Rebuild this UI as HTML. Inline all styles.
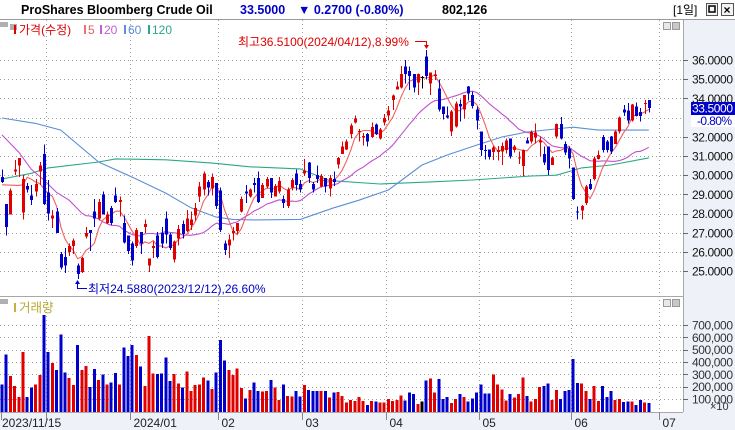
<!DOCTYPE html>
<html><head><meta charset="utf-8">
<style>
body{margin:0;background:#fff;}
svg{display:block;font-family:"Liberation Sans","Noto Sans CJK KR",sans-serif;}
</style></head>
<body>
<svg id="chart" width="735" height="430" viewBox="0 0 735 430" xmlns="http://www.w3.org/2000/svg">
  <rect x="0" y="0" width="735" height="430" fill="#ffffff"/>
  <!-- title bar -->
  <g>
    <rect x="0" y="0" width="735" height="19" fill="#ffffff"/>
    <line x1="0" y1="19.5" x2="735" y2="19.5" stroke="#9a9a9a"/>
    <text x="21" y="14" font-size="12.5" font-weight="bold" fill="#000">ProShares Bloomberg Crude Oil</text>
    <text x="240" y="14" font-size="12.5" font-weight="bold" fill="#0000c8">33.5000</text>
    <text x="298" y="14" font-size="12.5" font-weight="bold" fill="#0000c8">▼ 0.2700 (-0.80%)</text>
    <text x="442" y="14" font-size="12.5" font-weight="bold" fill="#000">802,126</text>
    <text x="673" y="14" font-size="12" fill="#000">[1일]</text>
    <rect x="706.5" y="3.5" width="11" height="12" fill="#f4f4f4" stroke="#555"/>
    <rect x="709" y="6" width="6" height="6" fill="none" stroke="#000" stroke-width="1.5"/>
    <rect x="721.5" y="3.5" width="12" height="12" fill="#f4f4f4" stroke="#555"/>
    <text x="723.5" y="14" font-size="12" font-weight="bold" fill="#000">×</text>
  </g>
  <!-- axis backgrounds -->
  <rect x="683" y="20" width="52" height="410" fill="#eef1f7"/>
  <rect x="0" y="412" width="735" height="18" fill="#eef1f7"/>
  <line x1="683.5" y1="20" x2="683.5" y2="412" stroke="#a8a8a8"/>
  <line x1="0" y1="296.5" x2="683" y2="296.5" stroke="#a8a8a8"/>
  <line x1="0" y1="412.5" x2="683" y2="412.5" stroke="#a8a8a8"/>
  <g id="grid"></g>
  <g id="volume"></g>
  <g id="mas"></g>
  <g id="candles"></g>
  <g id="axes"></g>
  <!-- legend -->
  <g font-size="12">
    <rect x="10" y="24" width="7" height="6" fill="#b0b0b0"/>
    <rect x="14" y="25" width="2" height="9" fill="#e00000"/>
    <text x="19" y="34" fill="#e00000">가격(수정)</text>
    <rect x="84" y="25" width="2" height="9" fill="#f07070"/>
    <text x="88" y="34" fill="#e06060">5</text>
    <rect x="100" y="25" width="2" height="9" fill="#c060d0"/>
    <text x="104" y="34" fill="#c060d0">20</text>
    <rect x="124" y="25" width="2" height="9" fill="#5b8fd6"/>
    <text x="128" y="34" fill="#5b8fd6">60</text>
    <rect x="148" y="25" width="2" height="9" fill="#2aa889"/>
    <text x="152" y="34" fill="#2aa889">120</text>
  </g>
  <rect x="0" y="22" width="8" height="5" fill="#b0b0b0"/>
  <rect x="663.5" y="22.5" width="7" height="7" fill="#e8e8e8" stroke="#999"/>
  <rect x="672.5" y="22.5" width="7" height="7" fill="#c8c8c8" stroke="#999"/>
  <g>
    <rect x="0" y="299" width="8" height="5" fill="#b0b0b0"/>
    <rect x="14" y="303" width="2" height="9" fill="#c8b040"/>
    <text x="19" y="312" font-size="12.5" fill="#b8a830">거래량</text>
  </g>
  <rect x="663.5" y="299.5" width="7" height="7" fill="#e8e8e8" stroke="#999"/>
  <rect x="672.5" y="299.5" width="7" height="7" fill="#c8c8c8" stroke="#999"/>
  <!-- annotations -->
  <g>
    <text x="238" y="46" font-size="12" fill="#e00000">최고36.5100(2024/04/12),8.99%</text>
    <polyline points="415,41.5 426.5,41.5 426.5,47" fill="none" stroke="#e00000"/>
    <polygon points="424,45 429,45 426.5,49" fill="#e00000"/>
  </g>
  <g>
    <text x="88" y="293" font-size="12" fill="#0000c8">최저24.5880(2023/12/12),26.60%</text>
    <polyline points="77.5,281 77.5,288.5 87,288.5" fill="none" stroke="#0000c8"/>
    <polygon points="75,284 80,284 77.5,280" fill="#0000c8"/>
  </g>
</svg>
<script>
const opens = [29.9,28.5,27.95,30.2,30.5,28.05,29.45,28.95,29.15,30.2,31.1,29.1,27.75,28.1,25.9,25.75,26.0,26.3,25.3,24.95,26.8,27.15,28.1,27.75,29.0,27.5,28.3,28.95,28.6,27.5,26.85,26.45,26.3,27.05,27.3,25.3,26.2,26.85,27.0,27.75,26.9,25.6,26.7,27.45,27.1,27.4,27.9,28.9,29.25,29.65,29.3,29.6,29.2,26.45,26.35,27.0,27.1,28.1,29.15,28.9,29.6,29.85,28.8,29.4,29.85,28.9,29.15,28.75,28.4,29.35,30.1,29.55,30.1,30.65,29.55,30.0,29.4,29.85,29.3,29.8,30.55,31.1,31.35,32.15,32.75,32.25,31.97,32.15,32.0,32.65,31.92,32.75,33.1,33.92,34.47,34.58,35.65,35.44,35.27,34.82,35.12,36.17,34.78,35.17,34.52,33.57,33.1,32.27,32.53,33.71,33.43,34.61,34.18,33.43,32.27,31.31,31.35,31.22,31.22,31.23,31.31,31.92,31.31,30.86,30.48,31.8,31.75,31.97,31.7,31.11,31.49,30.53,32.01,32.67,31.63,31.4,30.41,28.1,28.15,28.54,29.54,29.79,30.85,31.98,31.75,32.01,31.63,32.27,33.43,33.36,32.84,33.57,33.3,33.75,33.92];
const highs = [30.3,28.5,29.3,30.8,30.9,30.0,29.6,29.5,29.8,30.7,31.6,29.75,28.2,28.3,26.0,26.2,26.45,26.7,25.4,25.75,27.3,27.15,28.75,28.75,29.15,28.1,28.4,29.35,28.9,27.9,26.85,26.55,27.25,27.05,27.7,25.65,26.55,27.05,27.3,28.1,27.0,26.6,27.4,27.65,28.2,28.1,28.55,29.65,30.2,29.75,30.1,29.6,29.35,26.6,26.9,27.3,27.5,28.9,29.5,29.3,29.85,30.2,29.6,29.9,29.85,29.55,29.9,28.95,29.35,29.85,30.3,29.75,30.85,30.7,29.65,30.5,30.05,29.85,30.0,30.2,30.95,31.75,31.85,32.7,33.1,32.4,32.2,32.2,32.75,32.7,32.45,33.2,33.6,34.2,34.87,35.69,36.0,35.65,35.27,35.3,35.16,36.51,35.34,35.48,34.99,33.57,33.57,33.4,33.83,33.95,34.18,34.65,34.35,33.57,32.27,31.57,31.35,31.52,31.52,31.7,31.92,31.92,31.58,31.23,31.35,31.97,32.32,32.7,32.01,31.49,31.49,30.97,32.7,33.02,31.75,31.49,30.41,28.36,28.45,29.5,29.79,30.97,31.28,32.1,31.84,32.04,32.32,33.05,33.66,33.75,33.71,33.78,33.49,33.92,33.92];
const lows = [29.6,26.85,27.95,30.0,29.9,27.7,29.1,28.45,28.9,29.5,28.45,27.65,27.25,27.0,25.1,24.9,25.8,25.9,24.588,24.9,26.7,26.05,27.3,27.65,27.95,27.45,27.4,28.55,27.85,26.45,25.9,25.3,26.2,25.9,27.0,24.95,25.7,25.65,26.2,26.45,26.1,25.45,26.35,26.7,27.05,27.15,27.65,28.6,28.95,28.95,28.95,28.25,27.05,25.85,25.7,26.6,26.95,28.05,28.55,28.85,29.1,28.55,28.8,29.3,28.8,28.9,29.05,28.3,28.3,29.2,29.2,29.1,29.95,29.6,29.1,29.6,29.35,29.1,28.9,29.45,30.35,31.1,31.3,31.9,32.7,31.75,31.55,31.5,31.95,32.1,31.85,32.6,32.85,33.4,34.47,34.52,34.78,34.44,34.3,34.18,34.52,34.99,34.18,34.96,33.31,32.91,32.96,32.04,32.49,32.79,32.96,33.88,33.48,32.39,31.0,30.83,30.83,30.79,30.76,30.53,31.14,30.88,31.18,30.59,29.96,31.66,31.66,31.66,30.97,30.53,30.01,30.53,31.92,31.87,31.05,30.36,28.71,27.7,27.7,28.45,29.23,29.72,30.83,31.18,31.18,31.11,31.63,32.18,33.09,32.7,32.79,33.05,32.79,33.19,33.26];
const closes = [29.65,27.3,29.2,30.3,30.9,29.8,29.25,28.7,29.55,30.5,28.5,28.0,27.9,27.0,25.2,25.3,26.3,26.6,24.85,25.7,27.0,27.0,27.75,28.6,27.95,27.95,27.5,28.6,28.7,26.5,26.05,25.55,27.15,26.45,27.45,25.65,26.3,25.75,26.45,26.9,26.2,26.55,27.2,26.95,27.75,27.7,28.3,29.4,30.1,29.35,29.9,28.4,27.15,26.1,26.65,27.1,27.5,28.75,29.05,29.25,29.5,28.6,29.5,29.8,29.1,29.45,29.7,28.55,29.25,29.75,29.5,29.25,30.25,29.85,29.25,29.8,29.95,29.4,29.85,29.65,30.9,31.5,31.75,32.6,32.95,32.3,32.05,31.75,32.5,32.15,32.39,32.98,33.36,34.14,34.61,35.27,35.27,35.17,34.58,35.27,35.12,35.17,35.34,35.25,33.43,33.19,33.0,33.31,33.74,33.57,34.18,34.26,33.6,32.84,31.31,31.26,30.96,31.45,31.31,31.52,31.8,30.97,31.49,30.92,31.31,31.66,32.25,32.22,31.8,30.66,30.27,30.93,32.67,31.92,31.18,30.88,28.75,28.05,28.4,29.41,29.27,30.88,31.05,31.31,31.31,31.23,32.27,33.0,33.26,32.84,33.68,33.09,33.09,33.77,33.5];
const volumes = [219,462,286,205,116,479,116,195,219,294,781,479,390,333,624,316,270,213,538,333,368,197,343,254,300,219,235,311,219,516,449,538,457,362,206,611,308,303,308,435,246,303,224,191,321,165,213,219,273,251,181,316,578,414,335,294,349,187,105,173,235,165,159,165,254,191,92,219,124,119,165,119,213,173,165,165,165,165,110,151,157,124,70,92,84,116,84,51,84,78,73,73,100,84,90,130,87,151,140,59,78,251,268,151,262,100,116,67,100,140,116,78,103,151,219,146,146,300,219,178,87,140,113,140,273,124,78,100,197,205,227,90,173,100,165,173,424,230,227,165,100,205,84,205,116,165,90,100,76,78,78,51,92,70,67];
// MA60 / MA120 (prior history not in view): [bar index, value]
const ma60Idx = [0,8,14,23,31,39,45,51,55,60,71,79,85,92,100,106,113,119,125,134,136,142,154];
const ma60Val = [32.98,32.7,32.35,30.69,29.9,29.07,28.3,27.82,27.7,27.67,27.7,28.3,28.7,29.23,30.53,31.05,31.57,31.99,32.25,32.46,32.5,32.35,32.35];
const ma120Idx = [0,7,11,23,27,39,50,59,71,78,90,102,112,126,132,138,145,154];
const ma120Val = [29.8,30.1,30.38,30.69,30.85,30.8,30.63,30.44,30.33,29.72,29.54,29.65,29.75,29.96,30.0,30.38,30.53,30.9];
const ma20EarlyIdx = [0,4,7,10,13,16];
const ma20EarlyVal = [32.1,31.2,30.3,29.75,29.1,28.7];
const priceTicks = [36,35,34,32,31,30,29,28,27,26,25];
const volTicks = [100,200,300,400,500,600,700];
const monthIdx = [11,31,52,72,92,114,136,157];
const monthLabels = ["","2024/01","02","03","04","05","06","07"];

const NS = "http://www.w3.org/2000/svg";
const X = i => 2 + 4.2 * i;
const Y = p => 60 + (36 - p) * 19.2;
const VY = v => 411.3 - v * 0.1233;
function mk(tag, attrs, parent){const e=document.createElementNS(NS,tag);for(const k in attrs)e.setAttribute(k,attrs[k]);parent.appendChild(e);return e;}
const UP="#e00000", DN="#0000cc";
const gGrid=document.getElementById('grid'), gVol=document.getElementById('volume'), gMa=document.getElementById('mas'), gC=document.getElementById('candles'), gAx=document.getElementById('axes');

// grid
priceTicks.concat([33]).forEach(p=>{
  const l=mk('line',{x1:0,x2:683,y1:Math.round(Y(p))+0.5,y2:Math.round(Y(p))+0.5,stroke:'#a0a0a0','stroke-dasharray':'1,3'},gGrid);
  
  
});
volTicks.forEach(v=>{
  const l=mk('line',{x1:0,x2:683,y1:Math.round(VY(v))+0.5,y2:Math.round(VY(v))+0.5,stroke:'#a0a0a0','stroke-dasharray':'1,3'},gGrid);
  
  
});
monthIdx.forEach((m,k)=>{
  const x=Math.round(X(m)-2.1)+0.5;
  const l=mk('line',{x1:x,x2:x,y1:20,y2:412,stroke:'#a0a0a0','stroke-dasharray':'1,3'},gGrid);
  
  
  mk('line',{x1:x,x2:x,y1:412,y2:420,stroke:'#888'},gAx);
  if(monthLabels[k]){
    const t=mk('text',{x:x+3,y:427,'font-size':12,fill:'#222'},gAx);
    t.textContent=monthLabels[k];
    
    
  }
});
{const t=mk('text',{x:2,y:427,'font-size':12,fill:'#222'},gAx);t.textContent="2023/11/15";

}
mk('line',{x1:1.5,x2:1.5,y1:412,y2:420,stroke:'#888'},gAx);

// price axis
priceTicks.forEach(p=>{
  const y=Y(p);
  mk('line',{x1:683,x2:688,y1:Math.round(y)+0.5,y2:Math.round(y)+0.5,stroke:'#666'},gAx);
  const t=mk('text',{x:692,y:y+4.5,'font-size':12,fill:'#111','textLength':41},gAx);
  t.textContent=p.toFixed(4);
  
  
});
{const cp=closes[closes.length-1];const y=Y(cp);
 const r=mk('rect',{x:691,y:y-6,width:44,height:13,fill:'#0000c8'},gAx);
 
 
 const t=mk('text',{x:692,y:y+4.5,'font-size':12,fill:'#fff','textLength':41},gAx);t.textContent=cp.toFixed(4);
 mk('rect',{x:691,y:y+7,width:44,height:12,fill:'#fff'},gAx);
 const t2=mk('text',{x:697,y:y+17,'font-size':12,fill:'#0000c8','textLength':35},gAx);t2.textContent="-0.80%";
 
 }
// volume axis
volTicks.forEach(v=>{
  const y=VY(v);
  mk('line',{x1:683,x2:688,y1:Math.round(y)+0.5,y2:Math.round(y)+0.5,stroke:'#666'},gAx);
  const t=mk('text',{x:692,y:y+4.5,'font-size':12,fill:'#333','textLength':41},gAx);
  t.textContent=(v*1000).toLocaleString('en-US');
  
  
});
{const t=mk('text',{x:710,y:410,'font-size':11,fill:'#333'},gAx);t.textContent="×10";}

// volume bars
volumes.forEach((v,i)=>{
  const c=closes[i]>opens[i]?UP:(closes[i]<opens[i]?DN:'#000');
  const y=VY(v);
  const r=mk('rect',{x:X(i)-1.5,y:y,width:3,height:412-y,fill:c,'shape-rendering':'crispEdges'},gVol);
  
  
});

// moving averages
function sma(n,i){let s=0;for(let k=i-n+1;k<=i;k++)s+=closes[k];return s/n;}
function line(pts,color,name){
  const p=mk('polyline',{points:pts.map(q=>q[0].toFixed(1)+','+q[1].toFixed(1)).join(' '),fill:'none',stroke:color,'stroke-width':1.1},gMa);
  
  
}
const ma120Pts=ma120Idx.map((ix,k)=>[X(ix),Y(ma120Val[k])]);
line(ma120Pts,'#2aa889','ma120-line');
const ma60Pts=ma60Idx.map((ix,k)=>[X(ix),Y(ma60Val[k])]);
line(ma60Pts,'#5b8fd6','ma60-line');
const ma20Pts=ma20EarlyIdx.map((ix,k)=>[X(ix),Y(ma20EarlyVal[k])]);
for(let i=19;i<closes.length;i++)ma20Pts.push([X(i),Y(sma(20,i))]);
line(ma20Pts,'#c050d0','ma20-line');
const ma5Pts=[[X(0),Y(29.5)]];
for(let i=4;i<closes.length;i++)ma5Pts.push([X(i),Y(sma(5,i))]);
line(ma5Pts,'#f06060','ma5-line');

// candles
closes.forEach((c,i)=>{
  const o=opens[i],col=c>o?UP:(c<o?DN:'#000');
  const x=Math.round(X(i));
  const w=mk('line',{x1:x+0.5,x2:x+0.5,y1:Y(highs[i]),y2:Y(lows[i]),stroke:col,'shape-rendering':'crispEdges'},gC);
  
  
  const top=Y(Math.max(o,c)),bot=Y(Math.min(o,c));
  const b=mk('rect',{x:x-1,y:top,width:3,height:Math.max(1,bot-top),fill:col,'shape-rendering':'crispEdges'},gC);
  
  
});
</script>
</body></html>
